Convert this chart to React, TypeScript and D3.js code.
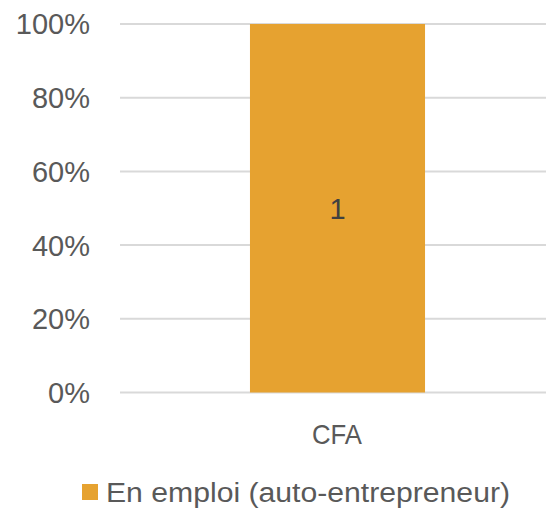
import React from "react";
import * as d3 from "d3";

const categories = ["CFA"];
const seriesName = "En emploi (auto-entrepreneur)";
const values = [1];
const yTicks = [0, 0.2, 0.4, 0.6, 0.8, 1];

export default function App() {
  const W = 546, H = 508;
  const left = 120, right = 546, top = 24, bottom = 392.5;
  const x = d3.scaleBand<string>().domain(categories).range([129, right]).paddingInner(0).paddingOuter(0.691);
  const y = d3.scaleLinear().domain([0, 1]).range([bottom, top]);
  const fmt = d3.format(".0%");
  const font = "'Liberation Sans', Arial, sans-serif";
  const color = "#E6A230";
  return (
    <svg width={W} height={H} style={{ position: "absolute", left: 0, top: 0 }}>
      <rect width={W} height={H} fill="#fff" />
      {yTicks.map((t) => (
        <g key={t}>
          <line x1={left} x2={right} y1={y(t)} y2={y(t)} stroke="#d9d9d9" strokeWidth={2} />
          <text x={90} y={y(t)} dy="0.36em" textAnchor="end" fontSize={29} fill="#595959" fontFamily={font}>
            {fmt(t)}
          </text>
        </g>
      ))}
      {categories.map((c, i) => (
        <g key={c}>
          <rect x={x(c)} y={y(values[i])} width={x.bandwidth()} height={y(0) - y(values[i])} fill={color} />
          <text x={(x(c) as number) + x.bandwidth() / 2} y={209} dy="0.36em" textAnchor="middle" fontSize={29} fill="#404040" fontFamily={font}>
            {values[i]}
          </text>
          <text x={312} y={434} dy="0.36em" fontSize={28} fill="#595959" fontFamily={font} textLength={50} lengthAdjust="spacingAndGlyphs">
            {c}
          </text>
        </g>
      ))}
      <rect x={82} y={484} width={16} height={16} fill={color} />
      <text x={106} y={492} dy="0.36em" fontSize={27} fill="#595959" fontFamily={font} textLength={404} lengthAdjust="spacingAndGlyphs">
        {seriesName}
      </text>
    </svg>
  );
}
